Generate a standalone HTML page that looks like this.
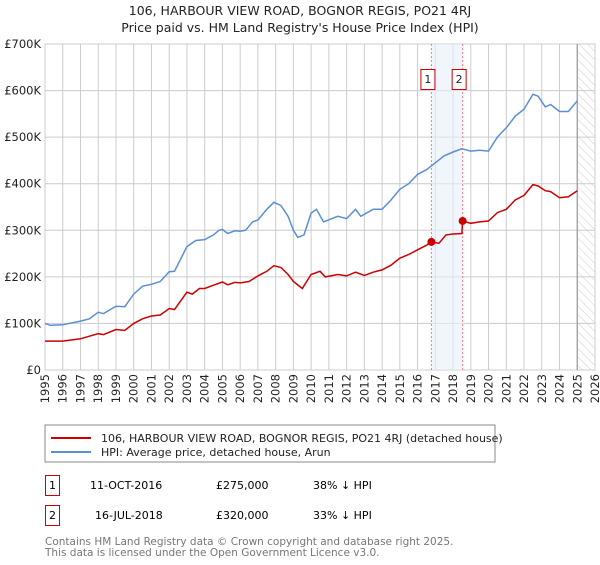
<!DOCTYPE html>
<html><head><meta charset="utf-8"><style>
body{margin:0;background:#fff;font-family:"Liberation Sans","DejaVu Sans",sans-serif;}
svg text{font-family:"DejaVu Sans","Liberation Sans",sans-serif;}
</style></head><body>
<svg id="c" width="600" height="560" viewBox="0 0 600 560">
<defs><pattern id="hatch" width="6" height="6" patternUnits="userSpaceOnUse" patternTransform="rotate(-45)"><line x1="0" y1="0" x2="0" y2="6" stroke="#ccc" stroke-width="1"/></pattern></defs>
<text x="300" y="15" text-anchor="middle" font-size="12.5" fill="#222">106, HARBOUR VIEW ROAD, BOGNOR REGIS, PO21 4RJ</text>
<text x="300" y="32" text-anchor="middle" font-size="12.5" fill="#222">Price paid vs. HM Land Registry's House Price Index (HPI)</text>
<g id="grid"></g><g id="marks"></g>
<rect x="45" y="425" width="450" height="37" fill="none" stroke="#888"/>
<line x1="51" y1="438" x2="91" y2="438" stroke="#cc0000" stroke-width="2"/>
<text x="101" y="442" font-size="11" fill="#222">106, HARBOUR VIEW ROAD, BOGNOR REGIS, PO21 4RJ (detached house)</text>
<line x1="51" y1="452" x2="91" y2="452" stroke="#5b8fd4" stroke-width="2"/>
<text x="101" y="456" font-size="11" fill="#222">HPI: Average price, detached house, Arun</text>
<rect x="45.5" y="475.5" width="14" height="20" fill="none" stroke="#cc0000"/>
<text x="52.5" y="489" text-anchor="middle" font-size="11">1</text>
<text x="90" y="489" font-size="11">11-OCT-2016</text>
<text x="216" y="489" font-size="11">£275,000</text>
<text x="313" y="489" font-size="11">38% ↓ HPI</text>
<rect x="45.5" y="505.5" width="14" height="20" fill="none" stroke="#cc0000"/>
<text x="52.5" y="519" text-anchor="middle" font-size="11">2</text>
<text x="95" y="519" font-size="11">16-JUL-2018</text>
<text x="216" y="519" font-size="11">£320,000</text>
<text x="313" y="519" font-size="11">33% ↓ HPI</text>
<text x="45" y="545" font-size="10.5" fill="#777">Contains HM Land Registry data © Crown copyright and database right 2025.</text>
<text x="45" y="556" font-size="10.5" fill="#777">This data is licensed under the Open Government Licence v3.0.</text>
</svg>
<script>
const hpiYears=[1995,1995.3,1996,1997,1997.5,1998,1998.3,1999,1999.5,2000,2000.5,2001,2001.5,2002,2002.3,2003,2003.5,2004,2004.5,2004.8,2005,2005.3,2005.7,2006,2006.3,2006.7,2007,2007.5,2007.9,2008.3,2008.7,2009,2009.25,2009.6,2010,2010.3,2010.7,2011.5,2012,2012.5,2012.8,2013.5,2014,2014.5,2015,2015.5,2016,2016.5,2017,2017.5,2018,2018.5,2019,2019.5,2020,2020.5,2021,2021.5,2022,2022.5,2022.8,2023.2,2023.5,2024,2024.5,2025];
const hpiValues=[100,96,97,105,110,124,121,137,136,163,180,184,190,211,212,265,278,280,290,300,302,293,299,298,300,318,322,345,360,353,330,300,285,290,337,345,318,330,325,345,330,345,345,365,388,400,420,430,445,460,468,475,470,472,470,500,520,545,560,592,588,565,570,555,555,578];
const priceYears=[1995,1996,1997,1998,1998.3,1999,1999.5,2000,2000.5,2001,2001.5,2002,2002.3,2003,2003.3,2003.7,2004,2004.5,2005,2005.3,2005.7,2006,2006.5,2007,2007.5,2007.9,2008.3,2008.7,2009,2009.5,2010,2010.5,2010.8,2011.5,2012,2012.5,2013,2013.5,2014,2014.5,2015,2015.5,2016,2016.5,2016.78,2017.2,2017.6,2018,2018.5,2018.54,2019,2019.5,2020,2020.5,2021,2021.5,2022,2022.5,2022.8,2023.2,2023.5,2024,2024.5,2025];
const priceValues=[62,62,67,78,76,87,85,100,110,116,118,132,130,167,163,175,175,182,189,183,188,187,190,202,212,224,220,205,190,175,205,212,200,205,202,210,203,210,215,225,240,248,258,268,275,272,290,292,293,320,315,318,320,338,345,365,375,398,395,385,383,370,372,385];
const saleYears=[2016.78,2018.54];
const saleValues=[275,320];
const saleLabels=["1","2"];
const yTicks=[0,100,200,300,400,500,600,700];
const yTickLabels=["£0","£100K","£200K","£300K","£400K","£500K","£600K","£700K"];
const xTicks=[1995,1996,1997,1998,1999,2000,2001,2002,2003,2004,2005,2006,2007,2008,2009,2010,2011,2012,2013,2014,2015,2016,2017,2018,2019,2020,2021,2022,2023,2024,2025,2026];
const X0=45,X1=595,Y0=370,Y1=44,XMIN=1995,XMAX=2026,YMAX=700,DATA_END=2025.0;
const xs=v=>X0+(v-XMIN)/(XMAX-XMIN)*(X1-X0);
const ys=v=>Y0-v/YMAX*(Y0-Y1);
const NS="http://www.w3.org/2000/svg";
const grid=document.getElementById('grid'),marks=document.getElementById('marks');
function mk(p,tag,at){const e=document.createElementNS(NS,tag);for(const k in at)e.setAttribute(k,at[k]);p.appendChild(e);return e;}
let r=mk(grid,'rect',{x:X0,y:Y1,width:X1-X0,height:Y0-Y1,fill:'#fff',stroke:'#ccc'});


yTicks.forEach((t,i)=>{
 let l=mk(grid,'line',{x1:X0,x2:X1,y1:ys(t),y2:ys(t),stroke:'#ccc'});
 
 
 let tx=mk(grid,'text',{x:X0-4,y:ys(t)+4,'text-anchor':'end','font-size':'11.5',fill:'#222'});
 tx.textContent=yTickLabels[i];
 
 
});
xTicks.forEach(t=>{
 let l=mk(grid,'line',{x1:xs(t),x2:xs(t),y1:Y1,y2:Y0,stroke:'#ccc'});
 
 
 let tx=mk(grid,'text',{x:0,y:0,'text-anchor':'end','font-size':'11.5',fill:'#222',transform:`translate(${xs(t)+4},${Y0+4}) rotate(-90)`});
 tx.textContent=t;
 
 
});
let h=mk(grid,'rect',{x:xs(DATA_END)+1,y:Y1,width:X1-xs(DATA_END)-1,height:Y0-Y1,fill:'url(#hatch)'});


let el=mk(grid,'line',{x1:xs(DATA_END),x2:xs(DATA_END),y1:Y1,y2:Y0,stroke:'#999','stroke-width':1.2});


let band=mk(grid,'rect',{x:xs(saleYears[0]),y:Y1,width:xs(saleYears[1])-xs(saleYears[0]),height:Y0-Y1,fill:'#e8eefa',opacity:0.6});


saleYears.forEach((y,i)=>{
 let l=mk(grid,'line',{x1:xs(y),x2:xs(y),y1:Y1,y2:Y0,stroke:'#f08080','stroke-dasharray':'2,2'});
 
 
 let b=mk(grid,'rect',{x:xs(y)-10.5,y:69.5,width:14,height:20,fill:'#fff',stroke:'#cc0000'});
 
 
 let t=mk(grid,'text',{x:xs(y)-3.5,y:83,'text-anchor':'middle','font-size':'11',fill:'#222'});
 t.textContent=saleLabels[i];
 
 
});
function path(xa,va){return xa.map((x,i)=>(i?'L':'M')+xs(x).toFixed(1)+','+ys(va[i]).toFixed(1)).join('');}
let hp=mk(marks,'path',{d:path(hpiYears,hpiValues),fill:'none',stroke:'#5b8fd4','stroke-width':1.5});


let pp=mk(marks,'path',{d:path(priceYears,priceValues),fill:'none',stroke:'#cc0000','stroke-width':1.5});


saleYears.forEach((y,i)=>{
 let c=mk(marks,'circle',{cx:xs(y),cy:ys(saleValues[i]),r:4,fill:'#cc0000'});
 
 
});
</script>
</body></html>
